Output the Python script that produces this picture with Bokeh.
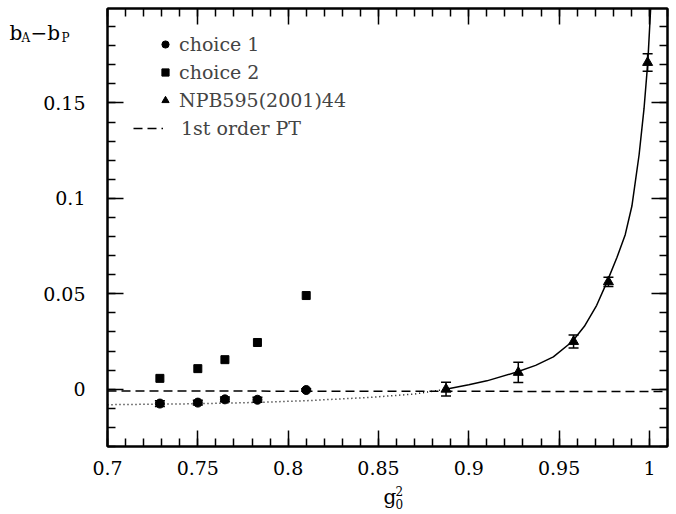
from bokeh.plotting import figure
from bokeh.models import (ColumnDataSource, Whisker, TeeHead, LinearAxis, SingleIntervalTicker,
                          CustomJSTickFormatter, Label, Legend, LegendItem, Range1d, GridBox)
from bokeh.embed import file_html
from bokeh.resources import INLINE

# ---- data ----
g2_choice = [0.729, 0.750, 0.765, 0.783, 0.810]
c1_val = [-0.0075, -0.0070, -0.0053, -0.0055, -0.0004]
c1_err = [0.0015, 0.0012, 0.0012, 0.0013, 0.0006]
c2_val = [0.0057, 0.0108, 0.0155, 0.0245, 0.0491]

g2_npb = [0.8874, 0.9274, 0.9580, 0.9773, 0.9990]
npb_val = [0.0000, 0.0088, 0.0250, 0.0563, 0.1712]
npb_err = [0.0036, 0.0053, 0.0034, 0.0024, 0.0046]

fit_x = [0.8872, 0.900, 0.910, 0.9266, 0.9370, 0.9468, 0.9573, 0.9640, 0.9708, 0.9764,
         0.9820, 0.9866, 0.9903, 0.9943, 0.9970, 0.9991, 1.0007]
fit_y = [0.0000, 0.0024, 0.0044, 0.0090, 0.0125, 0.0170, 0.0250, 0.0330, 0.0440, 0.0560,
         0.0690, 0.0810, 0.0960, 0.1230, 0.1470, 0.1714, 0.2000]

ext_x = [0.700, 0.750, 0.783, 0.810, 0.845, 0.870, 0.8872]
ext_y = [-0.0081, -0.0076, -0.0069, -0.0060, -0.0043, -0.0025, 0.0000]

pt_x = [0.700, 1.010]
pt_y = [-0.0009, -0.0012]

labels = ["choice 1", "choice 2", "NPB595(2001)44", "1st order PT"]

FONT = "DejaVu Serif"
W, H = 676, 514

p = figure(width=W, height=H, output_backend="svg", toolbar_location=None,
           x_range=Range1d(0.7, 1.01), y_range=Range1d(-0.03, 0.1995),
           min_border_left=107, min_border_right=9, min_border_top=8, min_border_bottom=68,
           x_axis_type=None, y_axis_type=None)
p.outline_line_color = "black"
p.outline_line_width = 2
p.background_fill_color = "white"
p.border_fill_color = "white"
p.frame_align = False

fmt = CustomJSTickFormatter(code="return (Math.round(tick*1000)/1000).toString();")

def make_axis(show_labels, standoff):
    ax = LinearAxis()
    ax.axis_line_color = "black"
    ax.axis_line_width = 2
    ax.major_tick_in = 16
    ax.major_tick_out = 0
    ax.minor_tick_in = 8
    ax.minor_tick_out = 0
    ax.major_tick_line_width = 1.5
    ax.minor_tick_line_width = 1.5
    ax.major_tick_line_color = "black"
    ax.minor_tick_line_color = "black"
    ax.formatter = fmt
    if show_labels:
        ax.major_label_text_font = FONT
        ax.major_label_text_font_size = "19px"
        ax.major_label_text_color = "black"
        ax.major_label_standoff = standoff
    else:
        ax.major_label_text_font_size = "0px"
        ax.major_label_standoff = 0
        ax.major_label_text_alpha = 0
    return ax

xt = SingleIntervalTicker(interval=0.05, num_minor_ticks=5)
yt = SingleIntervalTicker(interval=0.05, num_minor_ticks=5)
bx = make_axis(True, 14); bx.ticker = xt
tx = make_axis(False, 0); tx.ticker = xt
ly = make_axis(True, 22); ly.ticker = yt
ry = make_axis(False, 0); ry.ticker = yt
p.add_layout(bx, "below")
p.add_layout(tx, "above")
p.add_layout(ly, "left")
p.add_layout(ry, "right")

# curves
r_pt = p.line(pt_x, pt_y, line_color="black", line_width=1.5, line_dash="9 5")
p.line(ext_x, ext_y, line_color="black", line_width=1.5, line_dash="1 3")
p.line(fit_x, fit_y, line_color="black", line_width=1.5)

# error bars
c1_src = ColumnDataSource(dict(x=g2_choice, y=c1_val,
                               lo=[v - e for v, e in zip(c1_val, c1_err)],
                               hi=[v + e for v, e in zip(c1_val, c1_err)]))
npb_src = ColumnDataSource(dict(x=g2_npb, y=npb_val,
                                lo=[v - e for v, e in zip(npb_val, npb_err)],
                                hi=[v + e for v, e in zip(npb_val, npb_err)]))
for src in (c1_src, npb_src):
    w = Whisker(source=src, base="x", lower="lo", upper="hi", dimension="height",
                line_color="black", line_width=1.5,
                lower_head=TeeHead(size=10, line_color="black", line_width=1.5),
                upper_head=TeeHead(size=10, line_color="black", line_width=1.5))
    p.add_layout(w)

c2_src = ColumnDataSource(dict(x=g2_choice, y=c2_val))
r_c1 = p.scatter("x", "y", source=c1_src, marker="circle", size=9, color="black")
r_c2 = p.scatter("x", "y", source=c2_src, marker="square", size=8, color="black")
r_npb = p.scatter("x", "y", source=npb_src, marker="triangle", size=10, color="black")

# legends
legA = Legend(items=[LegendItem(label=labels[0], renderers=[r_c1]),
                     LegendItem(label=labels[1], renderers=[r_c2]),
                     LegendItem(label=labels[2], renderers=[r_npb])],
              location=(49, 335), glyph_width=18, glyph_height=20, label_height=20,
              spacing=6, padding=0, margin=0, label_standoff=5,
              label_text_font=FONT, label_text_font_size="19px",
              background_fill_alpha=0, border_line_color=None)
legB = Legend(items=[LegendItem(label=labels[3], renderers=[r_pt])],
              location=(26, 307), glyph_width=30, glyph_height=20, label_height=20,
              spacing=6, padding=0, margin=0, label_standoff=18,
              label_text_font=FONT, label_text_font_size="19px",
              background_fill_alpha=0, border_line_color=None)
p.add_layout(legA)
p.add_layout(legB)

# transparent overlay canvas for the axis titles (which sit outside the frame)
q = figure(width=W, height=H, output_backend="svg", toolbar_location=None,
           x_range=Range1d(0, W), y_range=Range1d(H, 0),
           min_border=0, x_axis_type=None, y_axis_type=None)
q.outline_line_color = None
q.background_fill_alpha = 0
q.border_fill_alpha = 0
q.frame_align = False

def lab(txt, x, y, size):
    q.add_layout(Label(x=x, y=y, text=txt,
                       text_font=FONT, text_font_size=size, text_color="black",
                       text_baseline="alphabetic", text_align="left"))

lab("b", 9, 32, "20px")
lab("A", 21, 37, "12px")
lab("\u2212b", 30, 32, "20px")
lab("P", 61, 37, "12px")

lab("g", 383, 496, "20px")
lab("2", 395, 490, "12px")
lab("0", 395, 503, "12px")

layout = GridBox(children=[(p, 0, 0), (q, 0, 0)], spacing=0)

open("out.html", "w").write(file_html(layout, INLINE))
